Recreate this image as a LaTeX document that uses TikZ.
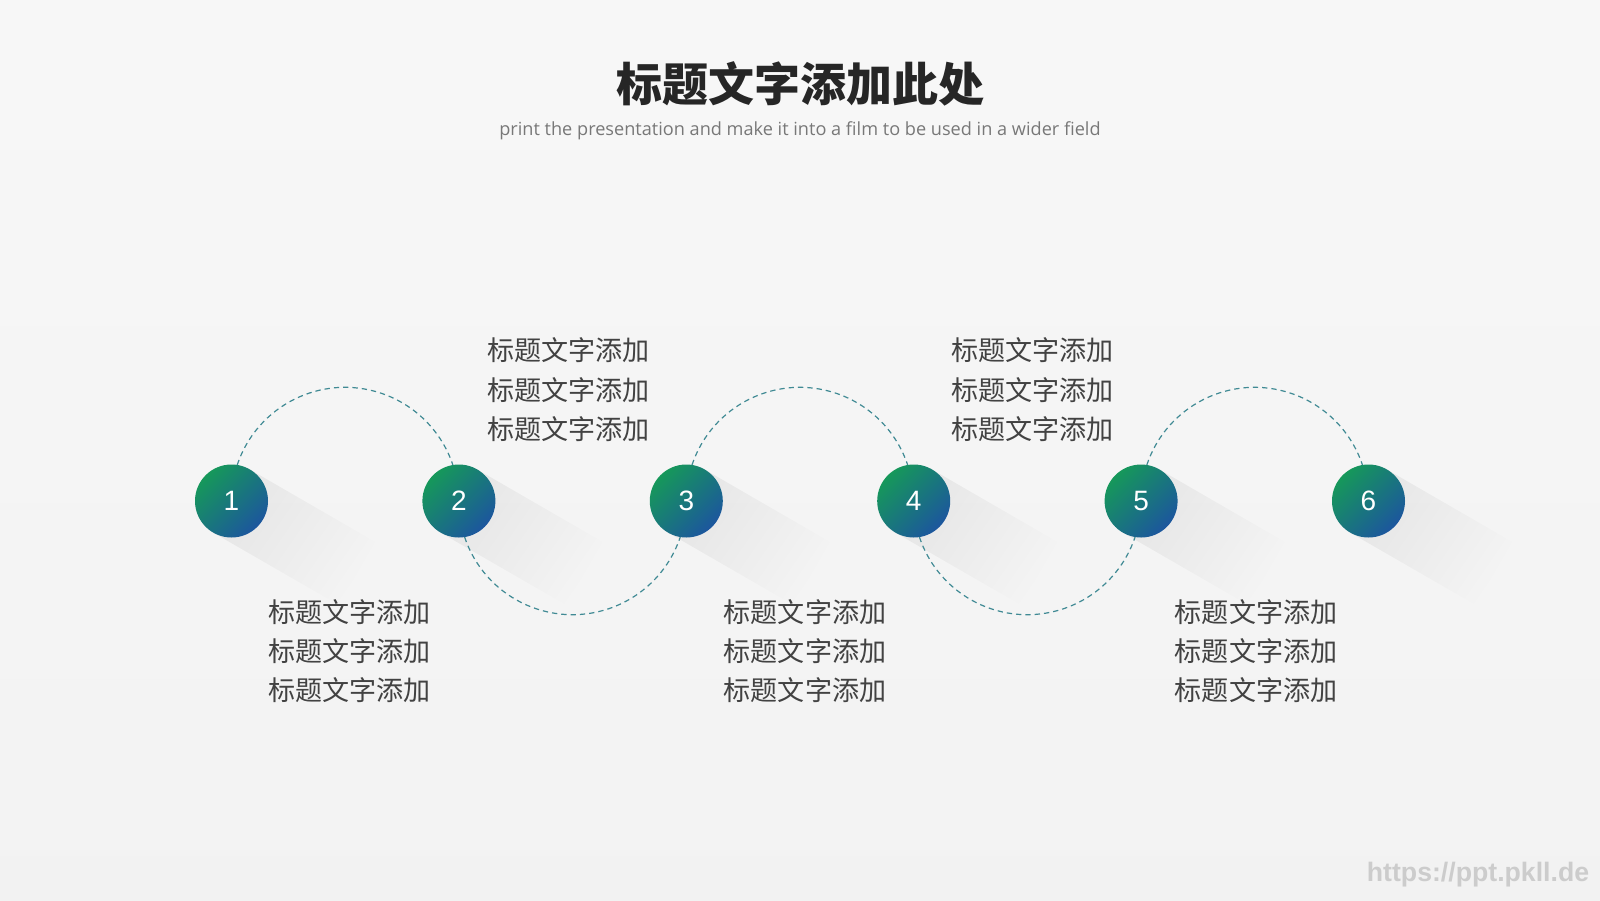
\documentclass[tikz,border=0pt]{standalone}
\usepackage{fontspec}
\usepackage{xcolor}
\usetikzlibrary{fadings}
\newfontfamily\cjk{Noto Sans CJK SC}
\newfontfamily\numfont{Liberation Sans}
\newfontfamily\subfont{Open Sans}
\definecolor{stepgreen}{RGB}{22,152,90}
\definecolor{stepblue}{RGB}{28,86,158}
\definecolor{arcteal}{RGB}{64,138,148}
\definecolor{bodygray}{RGB}{66,66,66}
\definecolor{subgray}{RGB}{120,120,120}
\definecolor{titlegray}{RGB}{38,38,38}

\tikzset{
  stepdot/.style={circle, minimum size=54.75pt, inner sep=0pt, outer sep=0pt,
    top color=stepgreen, bottom color=stepblue, shading angle=45,
    text=white, font=\numfont\fontsize{21}{21}\selectfont},
  linkarc/.style={color=arcteal, line width=0.9pt, dash pattern=on 4pt off 3pt},
  longshadow/.style={black, opacity=0.06, path fading=east, fading transform={rotate=-30}},
  bodytext/.style={align=center, text=bodygray, font=\cjk\fontsize{20.3}{29.5}\selectfont}
}

\begin{document}
\begin{tikzpicture}[x=0.75pt,y=0.75pt,yscale=-1,xscale=1]
%Shape: Background
\shade [top color=white!97!black, bottom color=white!95!black] (0,0) rectangle (1600,900);
\useasboundingbox (0,0) rectangle (1600,900);

%Shape: Long shadows
\fill [longshadow, shift={(231.5,501)}, rotate=30] (0,-36.5) rectangle (145,36.5);
\fill [longshadow, shift={(458.9,501)}, rotate=30] (0,-36.5) rectangle (145,36.5);
\fill [longshadow, shift={(686.3,501)}, rotate=30] (0,-36.5) rectangle (145,36.5);
\fill [longshadow, shift={(913.7,501)}, rotate=30] (0,-36.5) rectangle (145,36.5);
\fill [longshadow, shift={(1141.1,501)}, rotate=30] (0,-36.5) rectangle (145,36.5);
\fill [longshadow, shift={(1368.5,501)}, rotate=30] (0,-36.5) rectangle (145,36.5);

%Shape: Circle
\node [stepdot] (step1) at (231.5,501) {1};
%Shape: Circle
\node [stepdot] (step2) at (458.9,501) {2};
%Shape: Circle
\node [stepdot] (step3) at (686.3,501) {3};
%Shape: Circle
\node [stepdot] (step4) at (913.7,501) {4};
%Shape: Circle
\node [stepdot] (step5) at (1141.1,501) {5};
%Shape: Circle
\node [stepdot] (step6) at (1368.5,501) {6};

%Shape: Arc
\draw [linkarc] (step1.81) arc [start angle=198.5, end angle=341.5, radius=113.7];
%Shape: Arc
\draw [linkarc] (step2.-81) arc [start angle=161.5, end angle=18.5, radius=113.7];
%Shape: Arc
\draw [linkarc] (step3.81) arc [start angle=198.5, end angle=341.5, radius=113.7];
%Shape: Arc
\draw [linkarc] (step4.-81) arc [start angle=161.5, end angle=18.5, radius=113.7];
%Shape: Arc
\draw [linkarc] (step5.81) arc [start angle=198.5, end angle=341.5, radius=113.7];

% Text Node
\node [text=titlegray, font=\cjk\bfseries\fontsize{34.5}{34.5}\selectfont] (title) at (800,83.7) {标题文字添加此处};
% Text Node
\node [text=subgray, font=\subfont\fontsize{13.6}{13.6}\selectfont] (subtitle) at (800,131.2) {print the presentation and make it into a film to be used in a wider field};

% Text Node
\node [bodytext] (text1) at (349.5,651) {标题文字添加\\标题文字添加\\标题文字添加};
% Text Node
\node [bodytext] (text2) at (568.3,389.8) {标题文字添加\\标题文字添加\\标题文字添加};
% Text Node
\node [bodytext] (text3) at (805,651) {标题文字添加\\标题文字添加\\标题文字添加};
% Text Node
\node [bodytext] (text4) at (1032.6,389.8) {标题文字添加\\标题文字添加\\标题文字添加};
% Text Node
\node [bodytext] (text5) at (1256.1,651) {标题文字添加\\标题文字添加\\标题文字添加};

% Text Node
\node [text=white!80!black, font=\numfont\bfseries\fontsize{20}{20}\selectfont] (mark) at (1478,875) {https://ppt.pkll.de};

\end{tikzpicture}
\end{document}
